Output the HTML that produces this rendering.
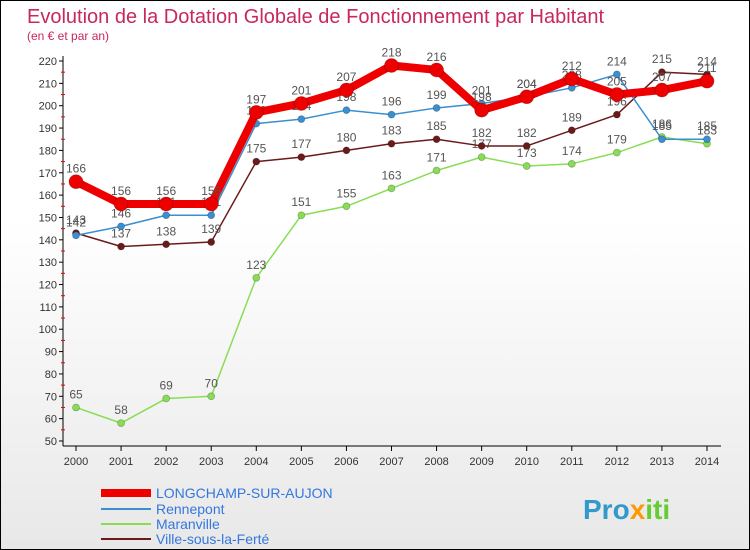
<!DOCTYPE html>
<html><head><meta charset="utf-8"><style>
body{margin:0}
#c{width:750px;height:550px;position:relative;background:linear-gradient(#fff,#fff 40%,#e8e8e8);font-family:"Liberation Sans",sans-serif;border:1px solid #000;box-sizing:border-box;overflow:hidden}
</style></head><body>
<div id="c">
<svg id="s" width="750" height="550" xmlns="http://www.w3.org/2000/svg" style="position:absolute;left:0;top:0">
<text x="26" y="22" font-size="20" fill="#c8285a">Evolution de la Dotation Globale de Fonctionnement par Habitant</text>
<text x="26" y="39" font-size="12" fill="#c8285a">(en € et par an)</text>
<g id="axes"></g><g id="series"></g><g id="legend"></g>
<text x="582" y="518" font-size="28" font-weight="bold" fill="#3399cc">Pro<tspan fill="#ff9900">x</tspan><tspan fill="#66cc33">iti</tspan></text>
</svg>
</div>
<script>
const years=[2000,2001,2002,2003,2004,2005,2006,2007,2008,2009,2010,2011,2012,2013,2014];
const yTicks=[50,60,70,80,90,100,110,120,130,140,150,160,170,180,190,200,210,220];
const longchamp=[166,156,156,156,197,201,207,218,216,198,204,212,205,207,211];
const rennepont=[142,146,151,151,192,194,198,196,199,201,204,208,214,185,185];
const maranville=[65,58,69,70,123,151,155,163,171,177,173,174,179,186,183];
const ville=[143,137,138,139,175,177,180,183,185,182,182,189,196,215,214];
const NS="http://www.w3.org/2000/svg";
const xs=i=>75+i*(631/14);
const ys=v=>60+(220-v)*(380/170);
function mk(t,a,p){const e=document.createElementNS(NS,t);for(const k in a)e.setAttribute(k,a[k]);p.appendChild(e);return e;}
const ax=document.getElementById('axes');
let l=mk('line',{x1:62,y1:55,x2:62,y2:445,stroke:'#000'},ax);


yTicks.forEach(v=>{
 mk('line',{x1:58,y1:ys(v),x2:62,y2:ys(v),stroke:'#000'},ax);
 if(v<220) mk('line',{x1:60,y1:ys(v+5),x2:64,y2:ys(v+5),stroke:'#e00'},ax);
 const t=mk('text',{x:56,y:ys(v)+4,'font-size':11,'text-anchor':'end',fill:'#333'},ax);t.textContent=v;
 
 
});
l=mk('line',{x1:62,y1:445,x2:720,y2:445,stroke:'#000'},ax);


years.forEach((y,i)=>{
 mk('line',{x1:xs(i),y1:445,x2:xs(i),y2:450,stroke:'#000'},ax);
 const t=mk('text',{x:xs(i),y:464,'font-size':11,'text-anchor':'middle',fill:'#333'},ax);t.textContent=y;
 
 
});
const sg=document.getElementById('series');
const defs=[
 {d:maranville,c:'#88dd55',w:1.5,r:3.5,n:'maranville'},
 {d:ville,c:'#6b1a1a',w:1.5,r:3.5,n:'ville-sous-la-ferte'},
 {d:rennepont,c:'#3a8fd0',w:1.5,r:3.5,n:'rennepont'},
 {d:longchamp,c:'#ee0000',w:8,r:7,n:'longchamp-sur-aujon'}];
defs.forEach(s=>{
 const g=mk('g',{},sg);
 
 
 const p=mk('polyline',{points:s.d.map((v,i)=>xs(i)+','+ys(v)).join(' '),fill:'none',stroke:s.c,'stroke-width':s.w,'stroke-linejoin':'round'},g);
 
 
 s.d.forEach((v,i)=>{
  const c=mk('circle',{cx:xs(i),cy:ys(v),r:s.r,fill:s.c,stroke:'rgba(0,0,0,0.25)','stroke-width':0.8},g);
  
  
  const t=mk('text',{x:xs(i),y:ys(v)-9,'font-size':12,'text-anchor':'middle',fill:'#555'},g);t.textContent=v;
  
  
 });
});
const lg=document.getElementById('legend');
[['LONGCHAMP-SUR-AUJON','#ee0000',8,492],['Rennepont','#3a8fd0',2,508],['Maranville','#88dd55',2,523],['Ville-sous-la-Ferté','#6b1a1a',2,538]].forEach(e=>{
 const g=mk('g',{},lg);
 
 
 mk('line',{x1:100,y1:e[3],x2:150,y2:e[3],stroke:e[1],'stroke-width':e[2]},g);
 const t=mk('text',{x:155,y:e[3]+5,'font-size':14,fill:'#3377dd'},g);t.textContent=e[0];
});
</script>
</body></html>
